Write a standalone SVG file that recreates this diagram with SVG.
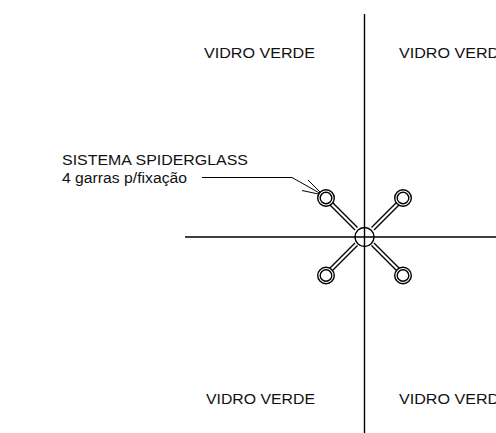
<svg xmlns="http://www.w3.org/2000/svg" width="496" height="433" viewBox="0 0 496 433">
<style>
text{font-family:"Liberation Sans",Arial,sans-serif;font-size:15.500px;fill:#111}
.l{stroke:#000;fill:none}
.a{stroke-width:1.400}
.t{stroke-width:1}
.c{stroke:#000;fill:#fff;stroke-width:1.400}
</style>
<rect width="496" height="433" fill="#fff"/>
<g id="connectors">
<path class="l a" d="M364.500 14V433M185 237H496"/>
<path class="l t" d="M202 177.500H292L323 195M308 180L323 195M302 190.500L323 195"/>
</g>
<g id="spider">
<path class="l a" d="M331 201L357.500 227.500M329 204L355 230M398 201L371.500 227.500M400 204L374 230M331 272L357.500 245.500M329 269L355 243M398 272L371.500 245.500M400 269L374 243"/>
<circle class="c" cx="364.500" cy="237" r="9.500" style="fill:none"/>
<g id="claw-nw"><circle class="c" cx="326" cy="198" r="8.300"/><circle class="c" cx="326" cy="198" r="5.800"/></g>
<g id="claw-ne"><circle class="c" cx="403" cy="198" r="8.300"/><circle class="c" cx="403" cy="198" r="5.800"/></g>
<g id="claw-sw"><circle class="c" cx="326" cy="275.500" r="8.300"/><circle class="c" cx="326" cy="275.500" r="5.800"/></g>
<g id="claw-se"><circle class="c" cx="403" cy="275.500" r="8.300"/><circle class="c" cx="403" cy="275.500" r="5.800"/></g>
</g>
<g id="labels">
<text x="204" y="58" textLength="111" lengthAdjust="spacingAndGlyphs">VIDRO VERDE</text>
<text x="399" y="58" textLength="111" lengthAdjust="spacingAndGlyphs">VIDRO VERDE</text>
<text x="206" y="404" textLength="109" lengthAdjust="spacingAndGlyphs">VIDRO VERDE</text>
<text x="399" y="404" textLength="111" lengthAdjust="spacingAndGlyphs">VIDRO VERDE</text>
<text x="62" y="165" textLength="186" lengthAdjust="spacingAndGlyphs">SISTEMA SPIDERGLASS</text>
<text x="62" y="183" textLength="125" lengthAdjust="spacingAndGlyphs">4 garras p/fixação</text>
</g>
</svg>
